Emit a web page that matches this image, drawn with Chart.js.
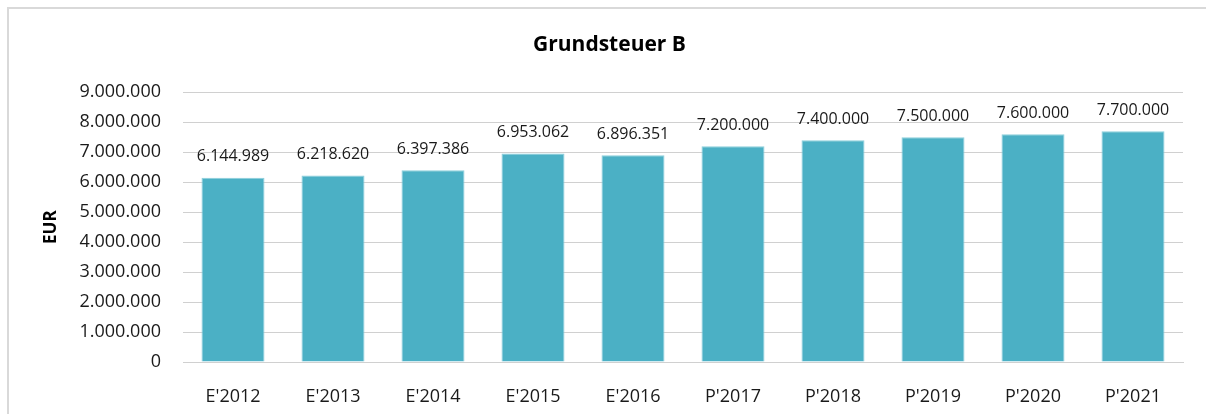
<!DOCTYPE html>
<html>
<head>
<meta charset="utf-8">
<script src="https://cdn.jsdelivr.net/npm/chart.js@4"></script>
<style>
  body { margin: 0; background: #fff; overflow: hidden; }
  #frame { position: absolute; left: 7px; top: 7px; width: 1300px; height: 500px; border: 2px solid #d9d9d9; }
  #wrap { position: absolute; left: 0; top: 0; width: 1206px; height: 414px; }
</style>
</head>
<body>
<div id="frame"></div>
<div id="wrap"><canvas id="myChart"></canvas></div>
<script>
const years = ["E'2012", "E'2013", "E'2014", "E'2015", "E'2016", "P'2017", "P'2018", "P'2019", "P'2020", "P'2021"]
const amounts = [6144989, 6218620, 6397386, 6953062, 6896351, 7200000, 7400000, 7500000, 7600000, 7700000]
const yTicks = [0, 1000000, 2000000, 3000000, 4000000, 5000000, 6000000, 7000000, 8000000, 9000000]

const font = "'Open Sans', 'Liberation Sans', sans-serif"

function dots(n) {
    return String(n).replace(/\B(?=(\d{3})+(?!\d))/g, ".")
}

// value labels above each bar
const barLabels = {
    id: "barLabels",
    afterDatasetsDraw(chart) {
        const ctx = chart.ctx
        ctx.save()
        ctx.font = "16px " + font
        ctx.fillStyle = "#1a1a1a"
        ctx.textAlign = "center"
        ctx.textBaseline = "middle"
        chart.getDatasetMeta(0).data.forEach((bar, i) => {
            ctx.fillText(dots(amounts[i]), bar.x, bar.y - 21)
        })
        ctx.restore()
    }
}

new Chart(document.getElementById("myChart").getContext("2d"), {
    type: "bar",
    data: {
        labels: years,
        datasets: [{
            data: amounts,
            backgroundColor: "#4bb0c5",
            borderColor: "#8ccfdc",
            borderWidth: 1,
            categoryPercentage: 1,
            barPercentage: 0.63
        }]
    },
    plugins: [barLabels],
    options: {
        responsive: true,
        maintainAspectRatio: false,
        animation: false,
        layout: { padding: { left: 36, right: 23, top: 0, bottom: 0 } },
        plugins: {
            legend: { display: false },
            tooltip: { enabled: false },
            title: {
                display: true,
                text: "Grundsteuer B",
                color: "#000",
                font: { family: font, size: 21, weight: "bold" },
                padding: { top: 32, bottom: 35 }
            }
        },
        scales: {
            x: {
                grid: { display: false },
                border: { color: "#d0d0d0" },
                ticks: { color: "#1a1a1a", font: { family: font, size: 18 }, padding: 16 },
                afterFit: s => { s.height = 52 }
            },
            y: {
                min: 0,
                max: 9000000,
                afterBuildTicks: s => { s.ticks = yTicks.map(v => ({ value: v })) },
                grid: { color: "#d0d0d0", drawTicks: false },
                border: { display: false },
                ticks: { color: "#1a1a1a", font: { family: font, size: 18 }, padding: 22, callback: v => dots(v) },
                title: {
                    display: true,
                    text: "EUR",
                    color: "#000",
                    font: { family: font, size: 17, weight: "bold" },
                    padding: { top: 5, bottom: 0 }
                },
                afterFit: s => { s.width = 147 }
            }
        }
    }
})
</script>
</body>
</html>
